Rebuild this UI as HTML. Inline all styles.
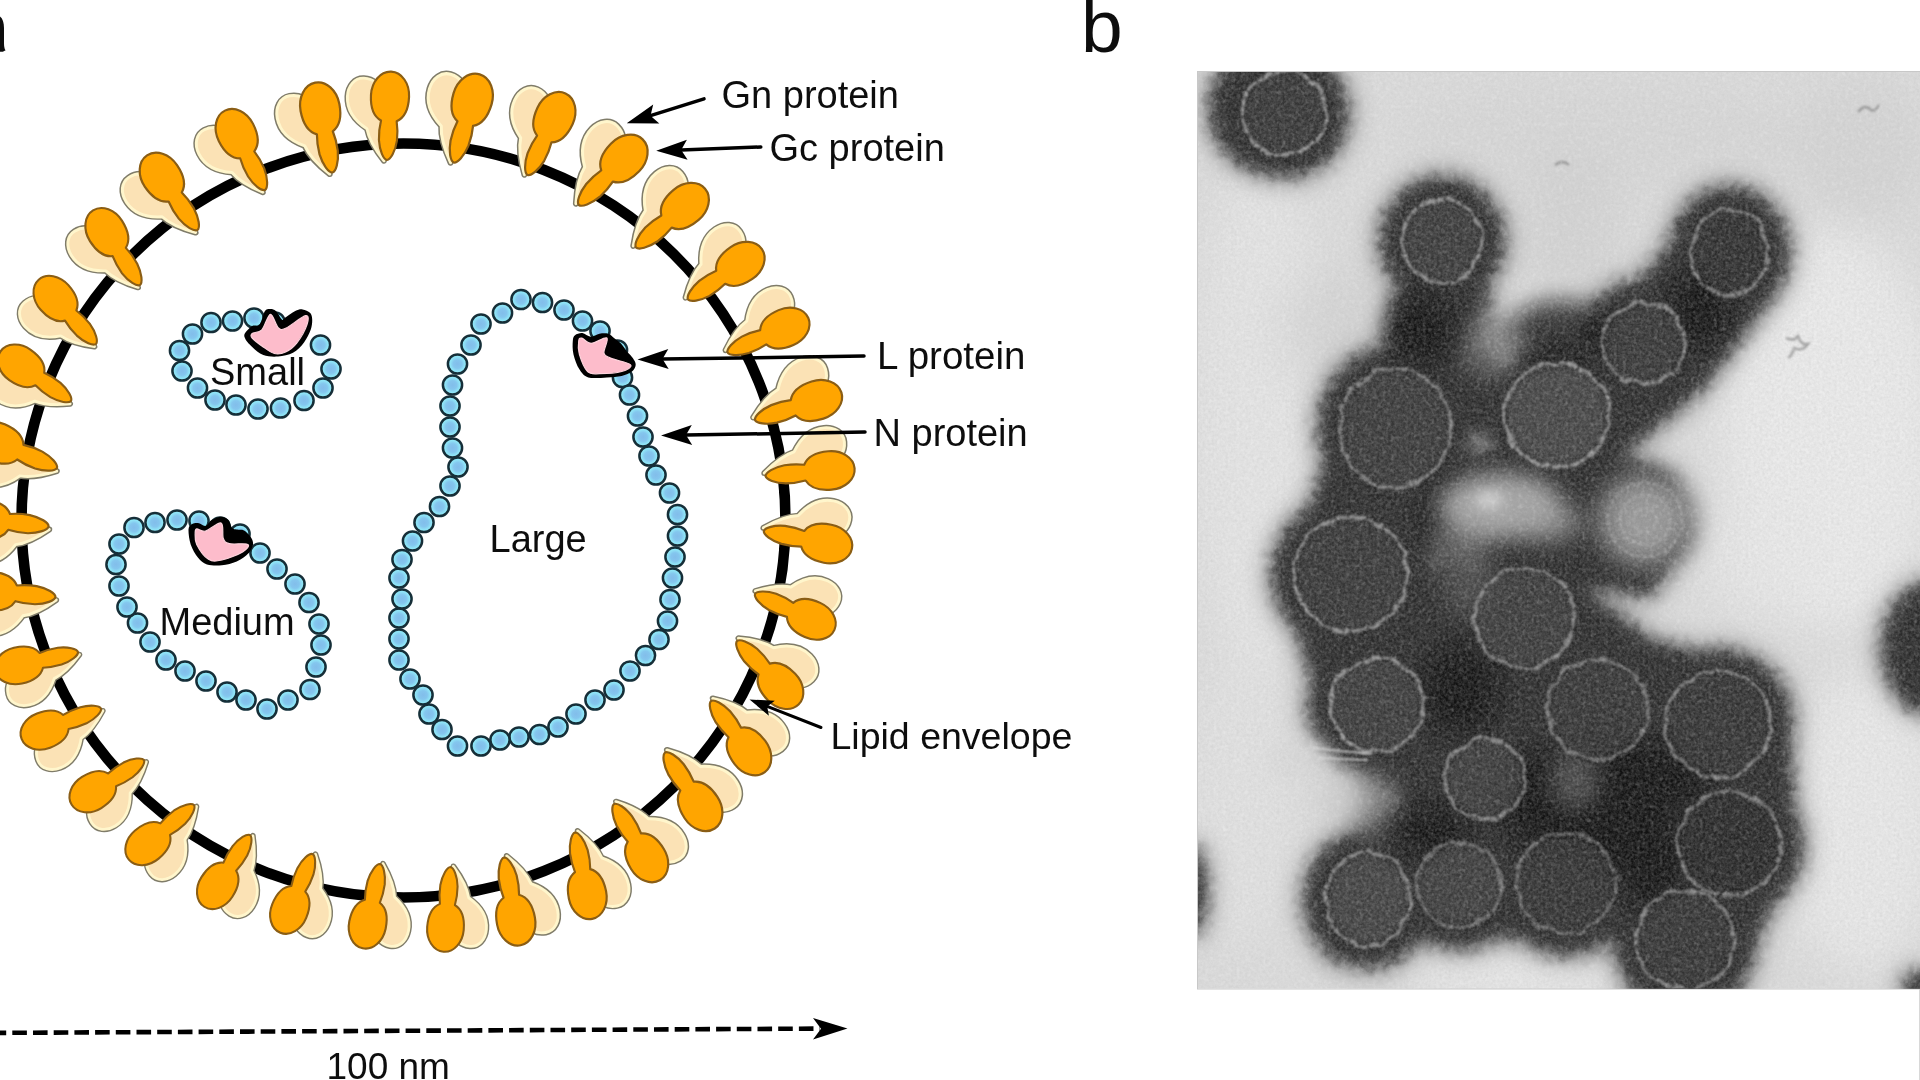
<!DOCTYPE html>
<html><head><meta charset="utf-8"><title>Figure</title>
<style>
html,body{margin:0;padding:0;background:#fff;overflow:hidden}
svg{display:block}
text{font-family:"Liberation Sans",sans-serif;fill:#111}
</style></head><body>
<svg width="1920" height="1080" viewBox="0 0 1920 1080">
<defs>
<radialGradient id="bg" cx="50%" cy="50%" r="50%"><stop offset="0" stop-color="#82bdea"/><stop offset="0.45" stop-color="#84c6ee"/><stop offset="0.75" stop-color="#8fe3f6"/><stop offset="1" stop-color="#93ecf9"/></radialGradient>
<filter id="soft" x="0" y="0" width="100%" height="100%" filterUnits="userSpaceOnUse"><feGaussianBlur stdDeviation="0.7"/></filter>
<g id="bd"><circle r="9.6" fill="url(#bg)" stroke="#152f38" stroke-width="2.5"/></g>
<g id="sp">
<path d="M-3,1 C-10,-7 -19,-18 -22,-31 C-34,-38 -43.5,-49 -43.5,-63 C-43.5,-74 -37,-82.5 -27.5,-82.5 C-18,-82.5 -10,-77 -8,-66 L-5,-26 C-3,-16 -2,-7 -3,1Z" fill="#fbe2b5" stroke="#7f7b69" stroke-width="6" stroke-linejoin="round"/>
<path d="M-3,1 C-10,-7 -19,-18 -22,-31 C-34,-38 -43.5,-49 -43.5,-63 C-43.5,-74 -37,-82.5 -27.5,-82.5 C-18,-82.5 -10,-77 -8,-66 L-5,-26 C-3,-16 -2,-7 -3,1Z" fill="#fbe2b5" stroke="#fff6cc" stroke-width="3" stroke-linejoin="round"/>
<path d="M0,0 C-3.6,-0.4 -8,-9 -9.2,-20 C-9.8,-29 -9,-35 -8,-40 C-16,-44 -19.5,-54 -19.5,-65.5 C-19.5,-79 -11,-90.5 0,-90.5 C11,-90.5 19.5,-79 19.5,-65.5 C19.5,-54 16,-44 8,-40 C9,-35 9.8,-29 9.2,-20 C8,-9 3.6,-0.4 0,0Z" fill="#ffa502" stroke="#8a5d12" stroke-width="2.2" stroke-linejoin="round"/>
</g>
</defs>
<rect width="1920" height="1080" fill="#fff"/>
<defs><clipPath id="mc"><rect x="1198" y="72" width="722" height="916.5"/></clipPath>
<filter id="b22" x="-30%" y="-30%" width="160%" height="160%"><feGaussianBlur stdDeviation="22"/></filter>
<filter id="b12" x="-30%" y="-30%" width="160%" height="160%"><feGaussianBlur stdDeviation="11"/></filter>
<filter id="b6" x="-30%" y="-30%" width="160%" height="160%"><feGaussianBlur stdDeviation="6"/></filter>
<filter id="b3" x="-30%" y="-30%" width="160%" height="160%"><feGaussianBlur stdDeviation="3"/></filter>
<filter id="b1" x="-10%" y="-10%" width="120%" height="120%"><feGaussianBlur stdDeviation="0.9"/></filter>
<filter id="grain" x="0" y="0" width="100%" height="100%"><feTurbulence type="fractalNoise" baseFrequency="0.35" numOctaves="2" seed="7" result="n"/><feColorMatrix in="n" type="matrix" values="0 0 0 0 0.5  0 0 0 0 0.5  0 0 0 0 0.5  0.9 0.9 0 0 -0.62"/></filter>
<filter id="grain2" x="0" y="0" width="100%" height="100%"><feTurbulence type="fractalNoise" baseFrequency="0.22" numOctaves="2" seed="3" result="n"/><feColorMatrix in="n" type="matrix" values="0 0 0 0 1  0 0 0 0 1  0 0 0 0 1  1.6 0 0 0 -0.78"/></filter>
<filter id="fz" x="-10%" y="-10%" width="120%" height="120%"><feGaussianBlur stdDeviation="7" result="bl"/><feTurbulence type="fractalNoise" baseFrequency="0.12" numOctaves="2" seed="11" result="t"/><feDisplacementMap in="bl" in2="t" scale="16" xChannelSelector="R" yChannelSelector="G"/><feGaussianBlur stdDeviation="1.6"/></filter>
<filter id="wb" x="-10%" y="-10%" width="120%" height="120%"><feTurbulence type="fractalNoise" baseFrequency="0.07" numOctaves="2" seed="5" result="t"/><feDisplacementMap in="SourceGraphic" in2="t" scale="9" xChannelSelector="R" yChannelSelector="G"/><feGaussianBlur stdDeviation="1.1"/></filter>
</defs>
<g clip-path="url(#mc)">
<rect x="1198" y="72" width="722" height="916.5" fill="#dcdcdc"/>
<g filter="url(#b22)">
<ellipse cx="1260" cy="420" rx="70" ry="260" fill="#e6e6e6" opacity="0.9"/>
<ellipse cx="1240" cy="800" rx="55" ry="150" fill="#e2e2e2" opacity="0.9"/>
<ellipse cx="1830" cy="430" rx="110" ry="200" fill="#ebebeb" opacity="0.95"/>
<ellipse cx="1860" cy="820" rx="80" ry="150" fill="#e9e9e9" opacity="0.95"/>
<ellipse cx="1600" cy="140" rx="200" ry="50" fill="#d6d6d6" opacity="0.8"/>
<ellipse cx="1860" cy="150" rx="70" ry="70" fill="#d2d2d2" opacity="0.7"/>
<ellipse cx="1520" cy="975" rx="120" ry="22" fill="#ececec" opacity="0.9"/>
<ellipse cx="1340" cy="330" rx="60" ry="60" fill="#cfcfcf" opacity="0.6"/>
<ellipse cx="1570" cy="230" rx="50" ry="80" fill="#d0d0d0" opacity="0.7"/>
<ellipse cx="1760" cy="560" rx="60" ry="60" fill="#e8e8e8" opacity="0.8"/>
</g>
<g filter="url(#b12)" fill="#505050" stroke="#505050" stroke-width="18" stroke-linejoin="round" opacity=".5"><ellipse cx="1284" cy="113" rx="63" ry="63"/><ellipse cx="1442" cy="241" rx="61" ry="63"/><ellipse cx="1729.5" cy="252" rx="59" ry="64"/><ellipse cx="1644" cy="343" rx="62" ry="62"/><ellipse cx="1394.7" cy="428" rx="76" ry="81"/><ellipse cx="1350.6" cy="574" rx="78" ry="78"/><ellipse cx="1524.5" cy="618" rx="71" ry="71"/><ellipse cx="1557" cy="415" rx="73" ry="73"/><ellipse cx="1377" cy="705" rx="68" ry="68"/><ellipse cx="1485" cy="779" rx="61" ry="61"/><ellipse cx="1368" cy="899" rx="63" ry="68"/><ellipse cx="1459" cy="885" rx="63" ry="63"/><ellipse cx="1566" cy="883" rx="71" ry="71"/><ellipse cx="1598" cy="709" rx="71" ry="71"/><ellipse cx="1718" cy="724" rx="74" ry="74"/><ellipse cx="1729.5" cy="844" rx="73" ry="73"/><ellipse cx="1685" cy="940" rx="70" ry="70"/><circle cx="1276" cy="108" r="66"/><ellipse cx="1929" cy="648" rx="46" ry="64"/><ellipse cx="1193" cy="890" rx="12" ry="42"/><circle cx="1919" cy="987" r="14"/><polygon points="1705,210 1772,228 1778,290 1700,390 1610,465 1500,470 1485,425 1600,330 1668,248"/><polygon points="1395,290 1490,290 1470,380 1440,400 1350,400 1390,340"/><polygon points="1440,450 1610,450 1670,475 1685,540 1650,595 1560,585 1440,585"/><ellipse cx="1440" cy="612" rx="32" ry="42"/><ellipse cx="1478" cy="392" rx="26" ry="44"/><polygon points="1340,400 1450,400 1440,520 1420,640 1440,740 1330,740 1300,640 1290,560 1320,480"/><polygon points="1420,640 1560,570 1650,640 1760,670 1790,740 1795,860 1760,930 1740,990 1630,990 1610,935 1420,940 1330,960 1310,900 1340,840 1400,800 1330,750"/></g>
<g filter="url(#fz)" fill="#292929"><ellipse cx="1284" cy="113" rx="63" ry="63"/><ellipse cx="1442" cy="241" rx="61" ry="63"/><ellipse cx="1729.5" cy="252" rx="59" ry="64"/><ellipse cx="1644" cy="343" rx="62" ry="62"/><ellipse cx="1394.7" cy="428" rx="76" ry="81"/><ellipse cx="1350.6" cy="574" rx="78" ry="78"/><ellipse cx="1524.5" cy="618" rx="71" ry="71"/><ellipse cx="1557" cy="415" rx="73" ry="73"/><ellipse cx="1377" cy="705" rx="68" ry="68"/><ellipse cx="1485" cy="779" rx="61" ry="61"/><ellipse cx="1368" cy="899" rx="63" ry="68"/><ellipse cx="1459" cy="885" rx="63" ry="63"/><ellipse cx="1566" cy="883" rx="71" ry="71"/><ellipse cx="1598" cy="709" rx="71" ry="71"/><ellipse cx="1718" cy="724" rx="74" ry="74"/><ellipse cx="1729.5" cy="844" rx="73" ry="73"/><ellipse cx="1685" cy="940" rx="70" ry="70"/><circle cx="1276" cy="108" r="66"/><ellipse cx="1929" cy="648" rx="46" ry="64"/><ellipse cx="1193" cy="890" rx="12" ry="42"/><circle cx="1919" cy="987" r="14"/><polygon points="1705,210 1772,228 1778,290 1700,390 1610,465 1500,470 1485,425 1600,330 1668,248"/><polygon points="1395,290 1490,290 1470,380 1440,400 1350,400 1390,340"/><polygon points="1440,450 1610,450 1670,475 1685,540 1650,595 1560,585 1440,585"/><ellipse cx="1440" cy="612" rx="32" ry="42"/><ellipse cx="1478" cy="392" rx="26" ry="44"/><polygon points="1340,400 1450,400 1440,520 1420,640 1440,740 1330,740 1300,640 1290,560 1320,480"/><polygon points="1420,640 1560,570 1650,640 1760,670 1790,740 1795,860 1760,930 1740,990 1630,990 1610,935 1420,940 1330,960 1310,900 1340,840 1400,800 1330,750"/></g>
<g filter="url(#b12)"><ellipse cx="1645" cy="520" rx="54" ry="52" fill="#6c6c6c" opacity="0.75"/><ellipse cx="1490" cy="345" rx="30" ry="34" fill="#6e6e6e" opacity="0.7"/><ellipse cx="1470" cy="585" rx="30" ry="30" fill="#585858" opacity="0.6"/><ellipse cx="1372" cy="805" rx="28" ry="34" fill="#6c6c6c" opacity="0.75"/></g>
<g filter="url(#b12)" fill="#0c0c0c" opacity=".8"><ellipse cx="1610" cy="800" rx="60" ry="70"/><ellipse cx="1460" cy="690" rx="40" ry="45"/><ellipse cx="1540" cy="800" rx="40" ry="50"/><ellipse cx="1430" cy="830" rx="40" ry="25"/><ellipse cx="1650" cy="860" rx="35" ry="50"/><ellipse cx="1560" cy="330" rx="50" ry="30"/><ellipse cx="1700" cy="310" rx="30" ry="40"/><ellipse cx="1450" cy="520" rx="25" ry="40"/><ellipse cx="1420" cy="330" rx="35" ry="35"/><ellipse cx="1640" cy="780" rx="70" ry="40"/></g>
<g filter="url(#b12)"><ellipse cx="1500" cy="506" rx="62" ry="33" fill="#b2b2b2" opacity="0.9"/><ellipse cx="1545" cy="522" rx="38" ry="20" fill="#9c9c9c" opacity="0.7"/><ellipse cx="1460" cy="545" rx="28" ry="22" fill="#8a8a8a" opacity="0.6"/><ellipse cx="1645" cy="520" rx="38" ry="38" fill="#a0a0a0" opacity="0.85"/><ellipse cx="1575" cy="780" rx="25" ry="30" fill="#6a6a6a" opacity="0.6"/><ellipse cx="1300" cy="760" rx="30" ry="20" fill="#d8d8d8" opacity="0.8"/><ellipse cx="1340" cy="800" rx="25" ry="22" fill="#cfcfcf" opacity="0.8"/></g>
<ellipse cx="1489" cy="500" rx="14" ry="9" fill="#e0e0e0" opacity=".7" filter="url(#b6)"/>
<g filter="url(#b3)" opacity=".8"><ellipse cx="1284" cy="113" rx="39" ry="39" fill="#383838"/><ellipse cx="1442" cy="241" rx="37" ry="39" fill="#3e3e3e"/><ellipse cx="1729.5" cy="252" rx="35" ry="40" fill="#2e2e2e"/><ellipse cx="1644" cy="343" rx="38" ry="38" fill="#373737"/><ellipse cx="1394.7" cy="428" rx="52" ry="57" fill="#3a3a3a"/><ellipse cx="1350.6" cy="574" rx="54" ry="54" fill="#373737"/><ellipse cx="1524.5" cy="618" rx="47" ry="47" fill="#3c3c3c"/><ellipse cx="1557" cy="415" rx="49" ry="49" fill="#4a4a4a"/><ellipse cx="1377" cy="705" rx="44" ry="44" fill="#3e3e3e"/><ellipse cx="1485" cy="779" rx="37" ry="37" fill="#3c3c3c"/><ellipse cx="1368" cy="899" rx="39" ry="44" fill="#444444"/><ellipse cx="1459" cy="885" rx="39" ry="39" fill="#404040"/><ellipse cx="1566" cy="883" rx="47" ry="47" fill="#303030"/><ellipse cx="1598" cy="709" rx="47" ry="47" fill="#343434"/><ellipse cx="1718" cy="724" rx="50" ry="50" fill="#323232"/><ellipse cx="1729.5" cy="844" rx="49" ry="49" fill="#282828"/><ellipse cx="1685" cy="940" rx="46" ry="46" fill="#343434"/></g>
<g filter="url(#wb)" fill="none" stroke-width="3.4" stroke-dasharray="11 1.5 6 1"><ellipse cx="1284" cy="113" rx="42" ry="42" stroke="#b0b0b0" stroke-opacity="0.75"/><ellipse cx="1442" cy="241" rx="40" ry="42" stroke="#b4b4b4" stroke-opacity="0.7"/><ellipse cx="1729.5" cy="252" rx="38" ry="43" stroke="#a8a8a8" stroke-opacity="0.7"/><ellipse cx="1644" cy="343" rx="41" ry="41" stroke="#a8a8a8" stroke-opacity="0.7"/><ellipse cx="1394.7" cy="428" rx="55" ry="60" stroke="#a4a4a4" stroke-opacity="0.7"/><ellipse cx="1350.6" cy="574" rx="57" ry="57" stroke="#b0b0b0" stroke-opacity="0.75"/><ellipse cx="1524.5" cy="618" rx="50" ry="50" stroke="#a8a8a8" stroke-opacity="0.7"/><ellipse cx="1557" cy="415" rx="52" ry="52" stroke="#b8b8b8" stroke-opacity="0.7"/><ellipse cx="1377" cy="705" rx="47" ry="47" stroke="#b0b0b0" stroke-opacity="0.75"/><ellipse cx="1485" cy="779" rx="40" ry="40" stroke="#a8a8a8" stroke-opacity="0.7"/><ellipse cx="1368" cy="899" rx="42" ry="47" stroke="#aaaaaa" stroke-opacity="0.7"/><ellipse cx="1459" cy="885" rx="42" ry="42" stroke="#a0a0a0" stroke-opacity="0.6"/><ellipse cx="1566" cy="883" rx="50" ry="50" stroke="#9a9a9a" stroke-opacity="0.6"/><ellipse cx="1598" cy="709" rx="50" ry="50" stroke="#a0a0a0" stroke-opacity="0.65"/><ellipse cx="1718" cy="724" rx="53" ry="53" stroke="#a8a8a8" stroke-opacity="0.7"/><ellipse cx="1729.5" cy="844" rx="52" ry="52" stroke="#a0a0a0" stroke-opacity="0.7"/><ellipse cx="1685" cy="940" rx="49" ry="49" stroke="#a8a8a8" stroke-opacity="0.7"/></g>
<g filter="url(#b1)" fill="none" stroke="#b8b8b8" stroke-width="2.2" stroke-opacity=".6" stroke-dasharray="4 3"><circle cx="1645" cy="520" r="37"/><circle cx="1645" cy="520" r="25"/><circle cx="1645" cy="520" r="12"/></g>
<g filter="url(#b1)" fill="none" stroke="#7a7a7a" stroke-width="2.4" stroke-opacity=".7"><path d="M1858,112 q6,-8 12,-3 q4,5 9,-4"/><path d="M1786,338 q8,4 12,-2 q3,10 10,8 q-6,8 -14,4 q-2,8 -6,10"/><path d="M1555,165 q8,-6 14,0"/></g>
<g filter="url(#b1)" stroke="#e6e6e6" stroke-width="2" stroke-opacity=".7"><path d="M1312,748 l60,6 M1318,758 l50,2"/></g>
<rect x="1198" y="72" width="722" height="916.5" filter="url(#grain)" opacity=".38"/>
<rect x="1198" y="72" width="722" height="916.5" filter="url(#grain2)" opacity=".25"/>
</g>
<rect x="1197.5" y="71.5" width="724" height="917.5" fill="none" stroke="#9a9a9a" stroke-opacity=".55" stroke-width="1"/>
<line x1="1919.5" y1="989" x2="1919.5" y2="1080" stroke="#d8d8d8" stroke-width="1"/>
<g filter="url(#soft)">
<ellipse cx="403.5" cy="520.5" rx="382" ry="377" fill="none" stroke="#000" stroke-width="10.6"/>
<use href="#sp" transform="translate(387 160) rotate(2.7) scale(0.978)"/><use href="#sp" transform="translate(453.8 162.5) rotate(16.4) scale(1.015)"/><use href="#sp" transform="translate(527.5 175) rotate(25) scale(0.994)"/><use href="#sp" transform="translate(578.8 205) rotate(44.2) scale(1.012)"/><use href="#sp" transform="translate(636 247.5) rotate(49.6) scale(1.002)"/><use href="#sp" transform="translate(688 299.5) rotate(55.7) scale(0.989)"/><use href="#sp" transform="translate(727.5 352.5) rotate(66.9) scale(0.971)"/><use href="#sp" transform="translate(755 420) rotate(72.3) scale(1.002)"/><use href="#sp" transform="translate(765.5 476) rotate(85.1) scale(0.988)"/><use href="#sp" transform="translate(763.8 531) rotate(101.3) scale(0.993)"/><use href="#sp" transform="translate(755 594) rotate(114.3) scale(0.963)"/><use href="#sp" transform="translate(737 641) rotate(135.9) scale(0.977)"/><use href="#sp" transform="translate(711 701) rotate(142.9) scale(0.986)"/><use href="#sp" transform="translate(665 752.5) rotate(146.8) scale(1.004)"/><use href="#sp" transform="translate(614 804) rotate(148.7) scale(0.983)"/><use href="#sp" transform="translate(575 832.5) rotate(168.7) scale(0.973)"/><use href="#sp" transform="translate(504 857.5) rotate(169.3) scale(0.987)"/><use href="#sp" transform="translate(450.5 867) rotate(-175.3) scale(0.940)"/><use href="#sp" transform="translate(380 864) rotate(-168.4) scale(0.951)"/><use href="#sp" transform="translate(312.5 854) rotate(-157.8) scale(0.940)"/><use href="#sp" transform="translate(250 835) rotate(-147.5) scale(0.940)"/><use href="#sp" transform="translate(194 805) rotate(-130) scale(0.940)"/><use href="#sp" transform="translate(144 760) rotate(-121.8) scale(0.940)"/><use href="#sp" transform="translate(101 708.5) rotate(-111) scale(0.940)"/><use href="#sp" transform="translate(78 652) rotate(-102.8) scale(0.940)"/><use href="#sp" transform="translate(55.5 597) rotate(-84.7) scale(0.989)"/><use href="#sp" transform="translate(48.6 526.4) rotate(-83.5) scale(0.993)"/><use href="#sp" transform="translate(57 468) rotate(-66.6) scale(0.998)"/><use href="#sp" transform="translate(71 401) rotate(-54.8) scale(0.953)"/><use href="#sp" transform="translate(96 344) rotate(-41.7) scale(0.952)"/><use href="#sp" transform="translate(140 285) rotate(-32.2) scale(0.974)"/><use href="#sp" transform="translate(197.5 230) rotate(-34.1) scale(0.995)"/><use href="#sp" transform="translate(265 190) rotate(-26.8) scale(0.983)"/><use href="#sp" transform="translate(332.5 172.5) rotate(-10.9) scale(1.011)"/>
<use href="#bd" x="192.5" y="334"/><use href="#bd" x="211" y="322.5"/><use href="#bd" x="232.5" y="321"/><use href="#bd" x="254" y="318"/><use href="#bd" x="275" y="322"/><use href="#bd" x="298" y="330"/><use href="#bd" x="320.5" y="345"/><use href="#bd" x="331" y="369"/><use href="#bd" x="323" y="388"/><use href="#bd" x="304" y="400.5"/><use href="#bd" x="280.5" y="408"/><use href="#bd" x="258" y="409"/><use href="#bd" x="236" y="405"/><use href="#bd" x="215" y="400"/><use href="#bd" x="197.5" y="388"/><use href="#bd" x="182" y="371"/><use href="#bd" x="179.5" y="350.5"/><use href="#bd" x="119" y="544"/><use href="#bd" x="134" y="527.5"/><use href="#bd" x="155" y="522.5"/><use href="#bd" x="177" y="520"/><use href="#bd" x="199" y="521"/><use href="#bd" x="220" y="527"/><use href="#bd" x="240" y="534"/><use href="#bd" x="260" y="553"/><use href="#bd" x="277" y="569"/><use href="#bd" x="295" y="584"/><use href="#bd" x="309" y="602.5"/><use href="#bd" x="319" y="624"/><use href="#bd" x="321" y="645"/><use href="#bd" x="316" y="667"/><use href="#bd" x="310" y="689.5"/><use href="#bd" x="288" y="700"/><use href="#bd" x="267" y="709"/><use href="#bd" x="246" y="700"/><use href="#bd" x="227" y="692"/><use href="#bd" x="206" y="681"/><use href="#bd" x="185" y="671"/><use href="#bd" x="166" y="660"/><use href="#bd" x="150" y="642"/><use href="#bd" x="137.5" y="623"/><use href="#bd" x="127" y="607"/><use href="#bd" x="119" y="586"/><use href="#bd" x="116" y="564.5"/><use href="#bd" x="521" y="299.5"/><use href="#bd" x="542.5" y="302.5"/><use href="#bd" x="564" y="310"/><use href="#bd" x="582.5" y="321"/><use href="#bd" x="600" y="331"/><use href="#bd" x="617.5" y="350"/><use href="#bd" x="622.5" y="377.5"/><use href="#bd" x="629.5" y="395"/><use href="#bd" x="637.5" y="416"/><use href="#bd" x="643" y="437"/><use href="#bd" x="649" y="456"/><use href="#bd" x="656" y="475"/><use href="#bd" x="669.5" y="493"/><use href="#bd" x="677.5" y="514.5"/><use href="#bd" x="677.5" y="536"/><use href="#bd" x="675" y="557"/><use href="#bd" x="672.5" y="578"/><use href="#bd" x="670" y="599.5"/><use href="#bd" x="667.5" y="621"/><use href="#bd" x="659" y="639.5"/><use href="#bd" x="645.5" y="655.5"/><use href="#bd" x="630" y="671"/><use href="#bd" x="614" y="690"/><use href="#bd" x="595" y="700"/><use href="#bd" x="576" y="714"/><use href="#bd" x="558" y="727"/><use href="#bd" x="539.5" y="734.5"/><use href="#bd" x="519" y="737"/><use href="#bd" x="500" y="740"/><use href="#bd" x="481" y="746"/><use href="#bd" x="457.5" y="746"/><use href="#bd" x="442" y="729.5"/><use href="#bd" x="429" y="714"/><use href="#bd" x="423" y="695"/><use href="#bd" x="410" y="679"/><use href="#bd" x="399" y="660"/><use href="#bd" x="399" y="639"/><use href="#bd" x="399" y="618"/><use href="#bd" x="402" y="599"/><use href="#bd" x="399" y="578"/><use href="#bd" x="402" y="559.5"/><use href="#bd" x="412.5" y="541"/><use href="#bd" x="424" y="522.5"/><use href="#bd" x="439.5" y="506.5"/><use href="#bd" x="450" y="486"/><use href="#bd" x="458" y="467"/><use href="#bd" x="452.5" y="448"/><use href="#bd" x="450" y="427"/><use href="#bd" x="450" y="406"/><use href="#bd" x="452.5" y="385"/><use href="#bd" x="457.5" y="364"/><use href="#bd" x="471" y="345"/><use href="#bd" x="481" y="324"/><use href="#bd" x="502.5" y="313"/>
<path d="M244.8,333.5 C245.9,331.3 249.7,327.6 252.2,326.1 C254.7,324.6 257.5,327.1 259.6,324.6 C261.7,322.1 263.1,313.9 264.8,311.3 C266.5,308.7 268.1,309.1 270,309 C271.9,308.9 273.9,309.2 275.9,310.9 C277.9,312.6 280.4,318.2 281.9,319.4 C283.4,320.6 282.6,319.4 284.8,318 C287,316.6 292.2,312.4 295.2,311 C298.2,309.6 300.1,309.1 302.6,309.4 C305.1,309.7 308.4,311.1 310,312.8 C311.6,314.5 312.1,316.6 312.2,319.4 C312.3,322.2 312.1,326 310.7,329.8 C309.3,333.6 306.9,338.6 304,342.4 C301.1,346.2 297.3,350.4 293,352.8 C288.7,355.2 283.1,356.1 278.1,356.5 C273.2,356.9 267.6,356.6 263.3,355 C259,353.4 255.1,349.5 252.2,346.9 C249.2,344.3 246.8,341.6 245.6,339.4 C244.4,337.2 243.7,335.7 244.8,333.5Z" fill="#050505"/><path d="M252.2,333.5 C253.8,332.1 258.9,333 261.9,329.8 C264.9,326.6 267.7,314.7 270.4,314.3 C273.1,313.9 275.6,325.3 278.1,327.6 C280.6,329.9 281,330.3 285.6,328.3 C290.2,326.3 302,316.3 305.6,315.7 C309.2,315.1 308.5,320 307,324.6 C305.5,329.2 300.3,338.5 296.7,343.1 C293.1,347.7 289.3,350.3 285.6,352 C281.9,353.7 278.1,354.4 274.4,353.5 C270.7,352.6 267,349.5 263.3,346.9 C259.6,344.3 254,340.2 252.2,338 C250.3,335.8 250.6,334.9 252.2,333.5Z" fill="#fdbccb" stroke="#fdd3dc" stroke-width="1.2"/><path d="M188.5,529.6 C188.6,526.3 189.9,525.5 191.5,524.4 C193.1,523.3 195.8,522.8 198.1,523 C200.4,523.2 203.4,526.4 205.6,525.9 C207.8,525.4 208.9,521.5 211.5,520 C214.1,518.5 218.3,516.7 221.1,516.7 C223.9,516.7 226.7,518.1 228.5,520 C230.3,521.9 230.8,526.5 232.2,528.1 C233.6,529.7 234.7,529.2 236.7,529.6 C238.7,530 241.8,529.2 244.1,530.4 C246.4,531.6 249.2,534.7 250.7,537 C252.2,539.3 253.4,541.7 253,544.4 C252.6,547.1 251.2,550.4 248.5,553.3 C245.8,556.1 241.1,559.5 236.7,561.5 C232.3,563.5 226.8,564.7 221.9,565.2 C217,565.7 211,565.6 207,564.4 C203,563.2 200.8,561.1 198.1,557.8 C195.4,554.5 192.3,549.1 190.7,544.4 C189.1,539.7 188.4,532.9 188.5,529.6Z" fill="#050505"/><path d="M196.7,528.9 C198.4,528.5 201.5,532.1 205.6,531.1 C209.7,530.1 218.1,521.8 221.1,523 C224.1,524.2 221.9,535 223.3,538.5 C224.7,542 225.2,542.7 229.3,543.7 C233.4,544.7 245.6,543 247.8,544.4 C250,545.8 246.9,549.3 242.6,551.9 C238.3,554.5 227.6,558.8 221.9,560 C216.2,561.2 212.7,561.9 208.5,559.3 C204.3,556.7 198.9,548.7 196.7,544.4 C194.5,540.1 195.2,535.9 195.2,533.3 C195.2,530.7 195,529.3 196.7,528.9Z" fill="#fdbccb" stroke="#fdd3dc" stroke-width="1.2"/><path d="M572.8,341.1 C573,337.9 573.4,336.6 575,335.2 C576.6,333.8 579.8,332.8 582.4,333 C585,333.2 587.8,336.6 590.6,336.7 C593.4,336.8 596.5,334.2 599.4,333.7 C602.3,333.2 605.9,333 608.3,333.7 C610.7,334.4 611.9,336.4 614,338 C616.1,339.6 618.8,341.2 621,343.5 C623.2,345.8 625,349.1 627,351.5 C629,353.9 631.3,355.9 632.8,358.1 C634.2,360.3 635.8,362.6 635.7,364.8 C635.6,367 634.3,369.6 632,371.5 C629.7,373.4 625.9,374.9 621.7,375.9 C617.5,376.9 612.5,377.1 606.9,377.4 C601.3,377.6 592.9,378.8 588.3,377.4 C583.7,376 581.9,373.1 579.4,369.3 C576.9,365.5 574.6,359.1 573.5,354.4 C572.4,349.7 572.5,344.3 572.8,341.1Z" fill="#050505"/><path d="M581.7,338.1 C583.8,338.5 587.1,343.3 591.3,343.3 C595.5,343.3 604.8,336.5 606.9,338.1 C609,339.7 603.3,349.7 603.9,353 C604.5,356.3 606.1,356.1 610.6,358.1 C615.1,360.1 628.8,362.6 630.6,364.8 C632.5,367 626.9,370 621.7,371.5 C616.5,373 605.1,373.7 599.4,373.7 C593.7,373.7 590.9,374.7 587.6,371.5 C584.3,368.3 580.9,359.5 579.4,354.4 C577.9,349.3 578.3,343.8 578.7,341.1 C579.1,338.4 579.6,337.7 581.7,338.1Z" fill="#fdbccb" stroke="#fdd3dc" stroke-width="1.2"/>
<line x1="704" y1="98.8" x2="650.5" y2="115.7" stroke="#000" stroke-width="3.5" stroke-linecap="round"/><polygon points="626.7,123.3 653.2,104.4 650.5,115.7 659.3,123.4" fill="#000"/>
<line x1="760.8" y1="147" x2="681.2" y2="149.9" stroke="#000" stroke-width="3.5" stroke-linecap="round"/><polygon points="656.2,150.8 686.9,139.7 681.2,149.9 687.6,159.7" fill="#000"/>
<line x1="864" y1="356" x2="662.5" y2="359.1" stroke="#000" stroke-width="3.5" stroke-linecap="round"/><polygon points="637.5,359.5 668.3,349 662.5,359.1 668.7,369" fill="#000"/>
<line x1="865" y1="432" x2="686" y2="435.1" stroke="#000" stroke-width="3.5" stroke-linecap="round"/><polygon points="661,435.5 691.8,425 686,435.1 692.2,445" fill="#000"/>
<line x1="821" y1="727.5" x2="767.2" y2="706.4" stroke="#000" stroke-width="3" stroke-linecap="round"/><polygon points="749.5,699.5 774.8,700.8 767.2,706.4 768.9,715.7" fill="#000"/>
<line x1="-3.5" y1="1032.9" x2="820" y2="1028.6" stroke="#000" stroke-width="4.6" stroke-dasharray="14.6 6.1" stroke-dashoffset="4.9"/>
<polygon points="847.5,1028.5 813,1018 821,1028.7 813,1039.5" fill="#000"/>
<text x="721.5" y="107.5" font-size="38" text-anchor="start">Gn protein</text>
<text x="769.5" y="161" font-size="38" text-anchor="start">Gc protein</text>
<text x="877" y="369" font-size="38.5" text-anchor="start">L protein</text>
<text x="873.5" y="446.3" font-size="38" text-anchor="start">N protein</text>
<text x="830.5" y="749.3" font-size="37.5" text-anchor="start">Lipid envelope</text>
<text x="210" y="384.5" font-size="38" text-anchor="start">Small</text>
<text x="159.5" y="634.5" font-size="38" text-anchor="start">Medium</text>
<text x="489.5" y="551.5" font-size="38" text-anchor="start">Large</text>
<text x="326.5" y="1079.3" font-size="37" text-anchor="start">100 nm</text>
<path d="M0,16.5 C2.6,18.5 4,22.5 4,28 L4,43.5 C4,47.5 4.8,49.3 5.6,50.3 L2.8,51.8 L0,51.8Z" fill="#111"/>
<text x="1081" y="51.5" font-size="75" text-anchor="start">b</text>
</g>
</svg>
</body></html>
